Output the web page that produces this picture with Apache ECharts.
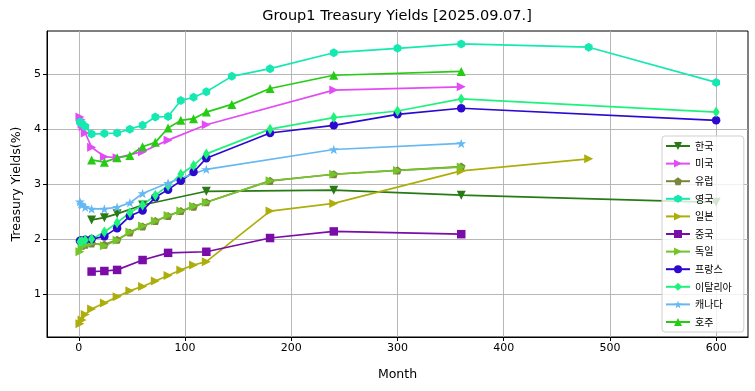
<!DOCTYPE html>
<html><head><meta charset="utf-8">
<script src="https://cdn.jsdelivr.net/npm/echarts@6/dist/echarts.min.js"></script>
<style>html,body{margin:0;padding:0;background:#fff}#c{width:755px;height:391px}</style>
</head><body><div id="c"></div>
<script>
const seriesNames = ['한국','미국','유럽','영국','일본','중국','독일','프랑스','이탈리아','캐나다','호주'];
const xTicks = [0,100,200,300,400,500,600];
const yTicks = [1,2,3,4,5];

const krX = [12,24,36,60,120,240,360,600];
const krY = [2.35,2.39,2.46,2.62,2.87,2.89,2.80,2.67];
const usX = [1,2,3,4,6,12,24,36,60,84,120,240,360];
const usY = [4.22,4.17,4.10,4.05,3.93,3.67,3.50,3.48,3.59,3.80,4.08,4.71,4.77];
const euX = [3,6,12,24,36,48,60,72,84,96,108,120,180,240,300,360];
const euY = [1.88,1.90,1.92,1.90,1.99,2.12,2.23,2.33,2.42,2.51,2.59,2.67,3.06,3.18,3.25,3.32];
const ukX = [1,3,6,12,24,36,48,60,72,84,96,108,120,144,180,240,300,360,480,600];
const ukY = [4.13,4.10,4.05,3.91,3.92,3.93,4.00,4.07,4.22,4.23,4.52,4.58,4.68,4.96,5.10,5.39,5.47,5.55,5.49,4.85];
const jpX = [1,3,6,12,24,36,48,60,72,84,96,108,120,180,240,360,480];
const jpY = [0.46,0.53,0.63,0.73,0.84,0.95,1.06,1.14,1.24,1.34,1.44,1.53,1.59,2.51,2.65,3.24,3.46];
const cnX = [12,24,36,60,84,120,180,240,360];
const cnY = [1.41,1.42,1.44,1.62,1.75,1.77,2.02,2.14,2.09];
const deX = [1,3,6,12,24,36,48,60,72,84,96,108,120,180,240,300,360];
const deY = [1.77,1.86,1.90,1.93,1.88,1.98,2.13,2.24,2.33,2.43,2.51,2.60,2.67,3.06,3.18,3.25,3.31];
const frX = [1,3,6,12,24,36,48,60,72,84,96,108,120,180,240,300,360,600];
const frY = [1.97,1.98,1.99,2.00,2.05,2.20,2.42,2.52,2.76,2.90,3.06,3.22,3.47,3.93,4.07,4.27,4.38,4.16];
const itX = [1,3,6,12,24,36,48,60,72,84,96,108,120,180,240,300,360,600];
const itY = [1.95,1.96,1.98,2.00,2.13,2.30,2.48,2.62,2.80,2.97,3.18,3.34,3.55,4.00,4.21,4.33,4.55,4.31];
const caX = [1,2,3,6,12,24,36,48,60,84,120,240,360];
const caY = [2.68,2.64,2.62,2.58,2.55,2.55,2.58,2.66,2.83,3.02,3.27,3.63,3.74];
const auX = [12,24,36,48,60,72,84,96,108,120,144,180,240,360];
const auY = [3.44,3.40,3.48,3.52,3.68,3.76,4.02,4.16,4.19,4.31,4.45,4.74,4.98,5.05];

const xsAll = [krX,usX,euX,ukX,jpX,cnX,deX,frX,itX,caX,auX];
const ysAll = [krY,usY,euY,ukY,jpY,cnY,deY,frY,itY,caY,auY];

const colors = ['#287a14','#e24cf5','#7b853c','#16e8b2','#adae0c','#7a0ca8','#74c42a','#2c08d2','#1ef27c','#66b8f2','#26cc14'];
const STAR = 'path://M0,-1 L0.2245,-0.309 L0.951,-0.309 L0.363,0.118 L0.588,0.809 L0,0.382 L-0.588,0.809 L-0.363,0.118 L-0.951,-0.309 L-0.2245,-0.309 Z';
const HEX = 'path://M0,-1 L0.866,-0.5 L0.866,0.5 L0,1 L-0.866,0.5 L-0.866,-0.5 Z';
const PENT = 'path://M0,-1 L0.951,-0.309 L0.588,0.809 L-0.588,0.809 L-0.951,-0.309 Z';
const symbols = ['triangle','triangle',PENT,HEX,'triangle','rect','triangle','circle','diamond',STAR,'triangle'];
const rotates = [180,-90,0,0,-90,0,-90,0,0,0,0];
const sizes = [9,9,8.5,9,9,8.5,9,8.5,[7,11],10,9];

const series = seriesNames.map((n,i)=>({
  name:n, type:'line',
  data: xsAll[i].map((x,j)=>[x, ysAll[i][j]]),
  symbol: symbols[i], symbolRotate: rotates[i], symbolSize: sizes[i], symbolKeepAspect: true,
  showAllSymbol: true,
  lineStyle:{width:1.7, color: colors[i]},
  itemStyle:{color: colors[i]},
  animation:false
}));

const chart = echarts.init(document.getElementById('c'), null, {renderer:'canvas'});
const FONT = 'DejaVu Sans';
chart.setOption({
  animation:false,
  backgroundColor:'#fff',
  title:{text:'Group1 Treasury Yields [2025.09.07.]', left:397, top:9, textAlign:'center', padding:0,
    textStyle:{fontFamily:FONT, fontSize:14.5, fontWeight:'normal', color:'#000'}},
  grid:{left:47, right:7, top:31, bottom:54, show:true, borderColor:'#000', borderWidth:1, backgroundColor:'transparent'},
  xAxis:{type:'value', min:-30, max:630,
    name:'Month', nameLocation:'middle', nameGap:31,
    nameTextStyle:{fontFamily:FONT, fontSize:12.5, color:'#000'},
    axisLine:{show:true, onZero:false, lineStyle:{color:'#000', width:1}},
    axisTick:{show:true, length:4, customValues:xTicks, lineStyle:{color:'#000'}},
    axisLabel:{fontFamily:FONT, fontSize:11, color:'#000', margin:6, customValues:xTicks,
      formatter:v=> String(Math.round(v))},
    splitLine:{show:true, lineStyle:{color:'#b0b0b0', width:0.9}}},
  yAxis:{type:'value', min:0.22, max:5.785,
    name:'Treasury Yields(%)', nameLocation:'middle', nameGap:24, nameRotate:90,
    nameTextStyle:{fontFamily:FONT, fontSize:12.5, color:'#000'},
    axisLine:{show:true, onZero:false, lineStyle:{color:'#000', width:1}},
    axisTick:{show:true, length:4, customValues:yTicks, lineStyle:{color:'#000'}},
    axisLabel:{fontFamily:FONT, fontSize:11, color:'#000', margin:6, customValues:yTicks,
      formatter:v=> String(Math.round(v))},
    splitLine:{show:true, lineStyle:{color:'#b0b0b0', width:0.9}}},
  legend:{orient:'vertical', left:662, top:136, data:seriesNames,
    itemWidth:24, itemHeight:10, itemGap:3.6, padding:[3,12,3,3],
    backgroundColor:'rgba(255,255,255,0.8)', borderColor:'#d0d0d0', borderWidth:1, borderRadius:3,
    textStyle:{fontFamily:'Noto Sans CJK KR', fontSize:10, color:'#000', lineHeight:14}},
  series: series
});
</script></body></html>
